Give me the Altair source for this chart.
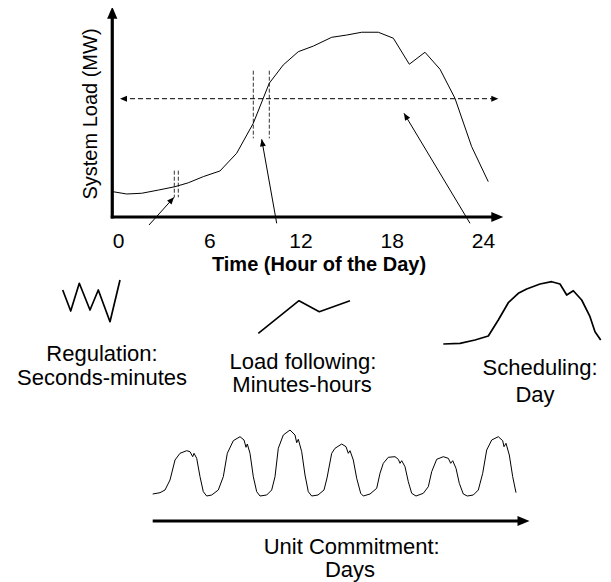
import math
import pandas as pd
import altair as alt

# ---------------- data ----------------
# Daily system load curve (top panel): hour of day vs load (MW, arbitrary scale)
hours = [-0.34, 0.54, 1.53, 2.62, 3.71, 4.59, 5.58, 6.67, 7.77, 8.86, 9.91, 10.83,
         11.82, 12.81, 14.02, 15.0, 15.99, 17.08, 18.07, 19.12, 20.15, 21.14, 22.12,
         23.22, 24.31]
load_mw = [135, 123, 127, 144, 162, 183, 216, 246, 341, 501, 715, 813, 884, 914,
           961, 973, 988, 988, 956, 817, 881, 790, 635, 376, 189]
tick_hours = [0, 6, 12, 18, 24]

# Sketch shapes (page pixel coordinates)
reg_x = [62.7, 70.7, 79.3, 90.0, 98.3, 110.0, 120.0]
reg_y = [290.0, 311.0, 283.3, 310.0, 290.0, 321.7, 280.0]
follow_x = [258.3, 299.0, 319.3, 350.0]
follow_y = [333.3, 300.7, 311.7, 300.7]
sched_x = [443.3, 460.0, 475.0, 488.3, 498.3, 508.3, 518.3, 526.7, 540.0, 551.7,
           560.0, 566.7, 573.3, 581.7, 590.0, 595.0, 600.7]
sched_y = [344.0, 343.3, 340.0, 336.0, 320.0, 302.7, 293.3, 289.0, 284.0, 281.7,
           284.0, 295.0, 290.7, 300.0, 316.7, 331.7, 340.0]
week_x = [152.7, 160.0, 165.0, 170.0, 175.0, 180.0, 186.7, 190.0, 192.7, 194.0, 196.7,
          200.0, 203.3, 206.7, 211.7, 218.3, 223.3, 227.3, 233.3, 240.0, 244.0, 246.0,
          247.3, 250.0, 253.3, 256.7, 260.0, 266.7, 271.7, 275.0, 278.3, 283.3, 290.0,
          295.0, 296.7, 298.3, 301.7, 305.0, 308.3, 311.7, 318.0, 324.0, 327.0, 331.7,
          335.0, 341.7, 346.0, 348.3, 350.0, 353.3, 356.7, 360.7, 363.3, 370.0, 376.7,
          380.0, 383.3, 388.3, 395.0, 398.3, 400.0, 401.7, 405.0, 408.3, 411.7, 416.0,
          423.3, 428.3, 431.7, 436.7, 443.3, 448.3, 450.7, 452.7, 456.0, 459.3, 463.3,
          467.3, 473.3, 478.3, 482.7, 486.7, 491.7, 498.3, 502.7, 504.0, 506.0, 509.3,
          512.7, 516.0]
week_y = [494.0, 492.7, 490.0, 480.0, 460.0, 453.3, 450.7, 451.7, 456.7, 453.3, 458.3,
          476.7, 491.7, 496.0, 495.0, 490.0, 476.7, 453.3, 440.7, 436.7, 440.0, 447.3,
          444.0, 453.3, 476.7, 491.7, 496.0, 495.0, 490.0, 476.7, 448.3, 435.0, 430.0,
          435.0, 442.7, 439.3, 451.7, 475.0, 491.7, 496.0, 495.0, 490.0, 478.0, 453.3,
          448.3, 444.0, 446.7, 453.3, 450.7, 460.0, 478.3, 493.3, 496.0, 494.0, 488.3,
          473.3, 463.3, 457.3, 456.7, 459.3, 463.3, 460.7, 466.7, 481.7, 493.3, 496.0,
          493.3, 486.7, 471.7, 459.3, 456.7, 458.3, 463.3, 460.7, 468.3, 483.3, 494.0,
          496.0, 495.0, 490.0, 473.3, 450.0, 440.0, 436.7, 440.7, 446.7, 443.3, 455.0,
          476.7, 492.7]

# Labels
x_title = "Time (Hour of the Day)"
y_title = "System Load (MW)"
labels = ["Regulation:", "Seconds-minutes", "Load following:", "Minutes-hours",
          "Scheduling:", "Day", "Unit Commitment:", "Days"]

# ---------------- layout (page pixels) ----------------
W, H = 595, 574
OFF = 8
HOUR0_X, HOUR_PX = 118.5, 15.21
AXIS_Y, MW_PX = 217.0, 0.187

def hx(h):
    return HOUR0_X + HOUR_PX * h

X = lambda f: alt.X(f, type="quantitative", axis=None,
                    scale=alt.Scale(domain=[OFF, OFF + W], nice=False, zero=False))
Y = lambda f: alt.Y(f, type="quantitative", axis=None,
                    scale=alt.Scale(domain=[OFF, OFF + H], nice=False, zero=False, reverse=True))
X2 = lambda f: alt.X2(f)
Y2 = lambda f: alt.Y2(f)

FONT = "Liberation Sans"

# load curve
load_df = pd.DataFrame({"hour": hours, "mw": load_mw, "i": range(len(hours))})
load_line = alt.Chart(load_df).transform_calculate(
    px=f"{HOUR0_X} + {HOUR_PX} * datum.hour",
    py=f"{AXIS_Y} - {MW_PX} * datum.mw",
).mark_line(color="black", strokeWidth=1).encode(
    x=X("px"), y=Y("py"), order="i:Q")

# sketches
rows = []
for name, xs, ys, w in [("reg", reg_x, reg_y, 1.7), ("follow", follow_x, follow_y, 1.6),
                        ("sched", sched_x, sched_y, 1.7), ("week", week_x, week_y, 1.0)]:
    for i, (a, b) in enumerate(zip(xs, ys)):
        rows.append({"px": a, "py": b, "shape": name, "i": i, "w": w})
sk_df = pd.DataFrame(rows)
sketch = alt.Chart(sk_df).mark_line(color="black", strokeJoin="round").encode(
    x=X("px"), y=Y("py"), detail="shape:N", order="i:Q",
    strokeWidth=alt.StrokeWidth("w:Q", scale=None))

# axis / arrow segments
y_axis_x = hx(-0.41)
thick = pd.DataFrame([
    {"px": y_axis_x, "py": AXIS_Y + 1.5, "px2": y_axis_x, "py2": 16},
    {"px": y_axis_x - 1.5, "py": AXIS_Y, "px2": 494, "py2": AXIS_Y},
    {"px": 152.7, "py": 521.0, "px2": 520, "py2": 521.0},
])
thick_rules = alt.Chart(thick).mark_rule(color="black", strokeWidth=3.2).encode(
    x=X("px"), y=Y("py"), x2=X2("px2"), y2=Y2("py2"))

arrows = [  # start -> tip
    (149.0, 225.0, 174.0, 197.3),
    (276.7, 223.3, 261.7, 139.3),
    (470.0, 223.3, 404.0, 113.3),
]
thin = pd.DataFrame([{"px": a, "py": b, "px2": c, "py2": d} for a, b, c, d in arrows])
thin_rules = alt.Chart(thin).mark_rule(color="black", strokeWidth=1).encode(
    x=X("px"), y=Y("py"), x2=X2("px2"), y2=Y2("py2"))

dash_y = 98.7
hdash = pd.DataFrame([{"px": 122, "py": dash_y, "px2": 496, "py2": dash_y}])
hdash_rule = alt.Chart(hdash).mark_rule(color="black", strokeWidth=1, strokeDash=[5, 3]).encode(
    x=X("px"), y=Y("py"), x2=X2("px2"), y2=Y2("py2"))

vdash = pd.DataFrame([
    {"px": 174.3, "py": 170.7, "px2": 174.3, "py2": 197.3},
    {"px": 178.3, "py": 170.7, "px2": 178.3, "py2": 197.3},
    {"px": 253.3, "py": 70.7, "px2": 253.3, "py2": 138.3},
    {"px": 269.3, "py": 70.7, "px2": 269.3, "py2": 138.3},
])
vdash_rules = alt.Chart(vdash).mark_rule(color="#333333", strokeWidth=1, strokeDash=[4, 2]).encode(
    x=X("px"), y=Y("py"), x2=X2("px2"), y2=Y2("py2"))

# arrow heads
heads = [
    {"px": y_axis_x, "py": 6.7, "ang": 270, "s": 144},
    {"px": 503.3, "py": AXIS_Y, "ang": 0, "s": 144},
    {"px": 529.5, "py": 521.0, "ang": 0, "s": 144},
    {"px": 120.0, "py": dash_y, "ang": 180, "s": 49},
    {"px": 498.3, "py": dash_y, "ang": 0, "s": 49},
]
for a, b, c, d in arrows:
    heads.append({"px": c, "py": d, "ang": math.degrees(math.atan2(d - b, c - a)) % 360, "s": 49})
heads_df = pd.DataFrame(heads)
head_pts = alt.Chart(heads_df).mark_point(
    shape="M0,0L-2,-0.85L-2,0.85Z", filled=True, color="black", opacity=1, strokeWidth=0
).encode(x=X("px"), y=Y("py"), angle=alt.Angle("ang:Q", scale=None),
         size=alt.Size("s:Q", scale=None))

# texts
ticks_df = pd.DataFrame({"h": tick_hours, "t": [str(v) for v in tick_hours]})
tick_text = alt.Chart(ticks_df).transform_calculate(
    px=f"{HOUR0_X} + {HOUR_PX} * datum.h", py="248.3"
).mark_text(font=FONT, fontSize=21, align="center", baseline="alphabetic", color="black").encode(
    x=X("px"), y=Y("py"), text="t:N")

xt_df = pd.DataFrame([{"px": 319, "py": 270.5, "t": x_title}])
xt = alt.Chart(xt_df).mark_text(font=FONT, fontSize=20, fontWeight="bold", align="center",
                                baseline="alphabetic", color="black").encode(
    x=X("px"), y=Y("py"), text="t:N")

yt_df = pd.DataFrame([{"px": 96.5, "py": 114, "t": y_title}])
yt = alt.Chart(yt_df).mark_text(font=FONT, fontSize=20, angle=270, align="center",
                                baseline="alphabetic", color="black").encode(
    x=X("px"), y=Y("py"), text="t:N")

lab_pos = [(102, 361), (102, 384.5), (303, 368.5), (302, 392),
           (540, 374.5), (535, 401.5), (351.7, 554), (350, 577)]
lab_df = pd.DataFrame([{"px": p[0], "py": p[1], "t": t} for p, t in zip(lab_pos, labels)])
lab_text = alt.Chart(lab_df).mark_text(font=FONT, fontSize=22, align="center",
                                       baseline="alphabetic", color="black").encode(
    x=X("px"), y=Y("py"), text="t:N")

chart = alt.layer(
    vdash_rules, hdash_rule, load_line, thin_rules, thick_rules, head_pts, sketch,
    tick_text, xt, yt, lab_text
).properties(
    width=W, height=H, padding=0, autosize=alt.AutoSizeParams(type="none"), background="white"
).configure_view(stroke=None)

chart.save("out.html", embed_options={"renderer": "svg", "actions": False})
